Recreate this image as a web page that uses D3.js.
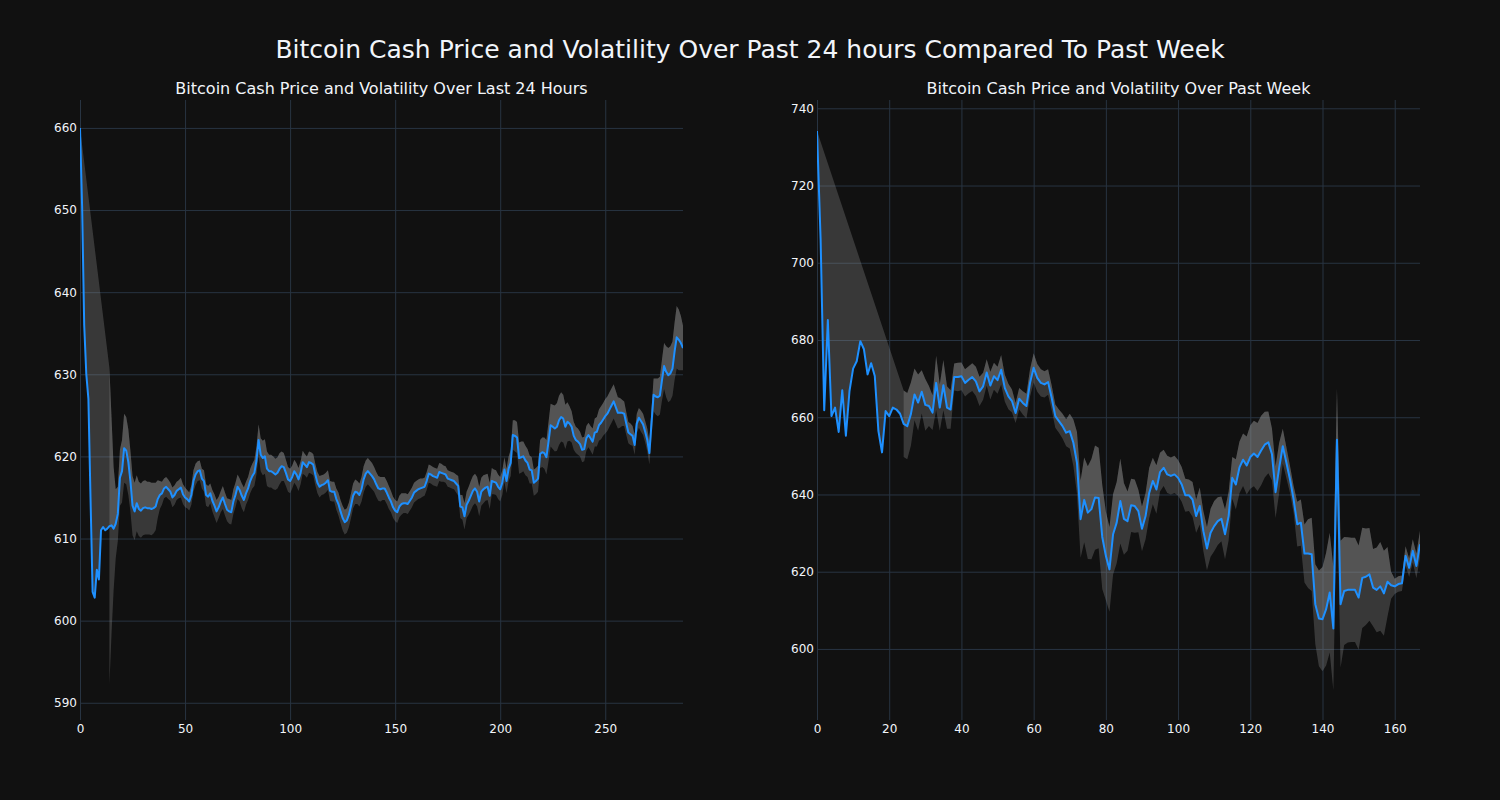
<!DOCTYPE html>
<html>
<head>
<meta charset="utf-8">
<script src="https://cdnjs.cloudflare.com/ajax/libs/d3/7.8.5/d3.min.js"></script>
<style>
  html, body { margin: 0; padding: 0; background: #111111; }
  svg { display: block; }
  text { font-family: "DejaVu Sans", sans-serif; fill: #f2f5fa; }
</style>
</head>
<body>
<svg id="chart" width="1500" height="800"></svg>
<script>
// ---------------- DATA ----------------
const mainTitle = "Bitcoin Cash Price and Volatility Over Past 24 hours Compared To Past Week";
const titleDay = "Bitcoin Cash Price and Volatility Over Last 24 Hours";
const titleWeek = "Bitcoin Cash Price and Volatility Over Past Week";

// 5-minute prices over the last 24 hours (index 0..287)
const priceDay = [
  660.0, 650.5, 636.0, 630.0, 627.0, 615.0, 603.5, 602.8, 606.2, 605.0,
  611.0, 611.4, 611.0, 611.2, 611.5, 611.6, 611.2, 611.8, 613.0, 617.4,
  618.2, 621.0, 620.7, 619.3, 617.0, 614.0, 613.3, 614.3, 613.6, 613.4,
  613.7, 613.8, 613.7, 613.7, 613.6, 613.7, 613.9, 614.8, 615.3, 615.5,
  616.1, 616.3, 616.0, 615.7, 615.0, 615.3, 615.8, 616.0, 616.2, 615.4,
  615.0, 614.8, 614.5, 615.3, 617.0, 617.8, 618.2, 618.3, 617.3, 617.0,
  615.3, 615.1, 615.5, 614.6, 614.0, 613.3, 613.8, 614.5, 615.0, 614.2,
  613.5, 613.3, 613.2, 614.5, 615.3, 616.3, 615.9, 615.2, 614.7, 615.5,
  616.1, 617.0, 617.6, 618.0, 619.5, 622.0, 620.2, 619.8, 620.0, 618.5,
  618.2, 618.2, 618.0, 617.8, 618.0, 618.5, 618.8, 618.7, 618.0, 617.2,
  617.0, 617.5, 618.2, 617.8, 617.2, 618.0, 619.3, 619.0, 618.7, 619.3,
  619.2, 619.0, 617.8, 616.8, 616.3, 616.5, 616.6, 616.8, 617.1, 615.8,
  615.7, 615.7, 614.8, 614.2, 613.3, 612.5, 612.0, 612.2, 612.9, 614.0,
  615.2, 615.7, 615.6, 615.3, 616.0, 617.2, 617.9, 618.2, 617.9, 617.6,
  617.2, 616.6, 616.1, 616.0, 616.1, 616.1, 615.6, 615.0, 614.5, 613.8,
  613.4, 613.2, 613.9, 614.2, 614.3, 614.3, 614.2, 614.6, 615.0, 615.6,
  615.8, 616.0, 616.1, 616.2, 616.3, 617.0, 617.9, 617.8, 617.6, 617.5,
  617.4, 618.1, 618.0, 617.9, 617.8, 617.3, 617.2, 617.1, 617.0, 616.7,
  616.4, 613.9, 613.8, 612.7, 614.1, 614.6, 615.2, 615.8, 616.1, 615.7,
  614.5, 615.7, 616.0, 616.2, 616.3, 615.2, 617.0, 616.9, 616.8, 616.3,
  616.0, 616.8, 618.4, 617.0, 618.5, 619.2, 622.6, 622.5, 622.3, 619.8,
  619.9, 620.0, 619.5, 619.2, 618.4, 618.3, 616.8, 617.0, 617.3, 620.3,
  620.5, 620.4, 619.9, 621.8, 623.8, 623.6, 623.4, 623.6, 624.4, 624.8,
  624.6, 623.6, 624.2, 624.0, 623.6, 622.5, 622.0, 621.8, 621.5, 620.8,
  620.9, 622.2, 622.6, 622.2, 621.8, 622.9, 623.0, 623.8, 624.1, 624.5,
  624.9, 625.2, 625.7, 626.2, 626.7, 626.0, 625.3, 625.3, 625.3, 625.2,
  624.0, 622.9, 622.7, 622.5, 621.4, 624.0, 624.7, 624.3, 623.9, 623.0,
  622.0, 620.4, 624.0, 627.5, 627.3, 627.2, 627.4, 629.3, 631.0, 630.3,
  629.9, 630.1, 630.7, 632.8, 634.5, 634.2, 633.8, 633.2
];

// volatility band half-width for the 24h chart (null = not available)
const volDay = [
  0,
  null, null, null, null, null, null, null, null, null, null, null, null, null,
  19.3, 13.2, 7.5, 4.2, 3.3, 3.4, 3.8, 4.2, 4.1, 4.0, 3.7, 3.6, 3.5, 3.4, 3.3, 3.3,
  3.3, 3.3, 3.2, 3.2, 3.2, 3.1, 2.9, 2.3, 1.7, 1.4,
  1.2, 1.2, 1.2, 1.1, 1.2, 1.2, 1.1, 1.1, 1.2, 1.2, 1.2, 1.1, 1.1, 1.2, 1.3, 1.3,
  1.2, 1.2, 1.2, 1.3, 1.3, 1.3, 1.2, 1.3, 1.4, 1.4, 1.3, 1.3, 1.4, 1.4, 1.4,
  1.5, 1.5, 1.5, 1.5, 1.5, 1.4, 1.5, 1.5, 1.4, 1.4, 1.5, 1.5, 1.6, 1.7,
  1.9, 2.0, 2.1, 2.1, 2.1, 2.0, 2.0, 2.0, 1.9, 1.9, 1.9, 1.8, 1.7,
  1.6, 1.5, 1.5, 1.4, 1.4, 1.4, 1.4, 1.4, 1.4, 1.3, 1.3, 1.3, 1.3, 1.3, 1.3,
  1.3, 1.3, 1.2, 1.2, 1.2, 1.2, 1.2, 1.2, 1.2, 1.3, 1.4, 1.4,
  1.5, 1.5, 1.5, 1.5, 1.5, 1.5, 1.5, 1.4, 1.4, 1.5, 1.6, 1.6, 1.6, 1.6, 1.6, 1.5,
  1.5, 1.5, 1.5, 1.4, 1.4,
  1.4, 1.4, 1.3, 1.3, 1.3, 1.3, 1.3, 1.3, 1.2, 1.2, 1.2, 1.2, 1.2, 1.2, 1.2, 1.2,
  1.2, 1.1, 1.1, 1.1,
  1.1, 1.1, 1.1, 1.1, 1.1, 1.1, 1.1, 1.0, 1.0, 1.0, 1.0, 1.0, 1.0, 1.1, 1.2,
  1.4, 1.5, 1.6, 1.6, 1.7, 1.8, 1.8, 1.8, 1.8, 1.8, 1.7, 1.7, 1.6, 1.6, 1.6, 1.6,
  1.5, 1.5, 1.5, 1.5, 1.5, 1.5, 1.5, 1.5, 1.6,
  1.8, 1.9, 1.9, 1.9, 1.9, 1.8, 1.8, 1.7, 1.7, 1.6, 1.6, 1.6, 1.6, 1.7, 1.8, 1.9, 2.1,
  2.4, 2.6, 2.7, 2.8, 2.9, 3.0, 3.0, 2.9, 2.7, 2.4,
  2.1, 1.9, 1.7, 1.6, 1.6, 1.5, 1.5, 1.5, 1.5, 1.5, 1.5, 1.6, 1.7,
  1.8, 1.9, 2.0, 2.0, 2.1, 2.1, 2.1, 2.1, 2.1, 2.0, 1.9, 1.8, 1.6,
  1.5, 1.4, 1.3, 1.3, 1.2, 1.2, 1.2, 1.2, 1.3, 1.3, 1.3, 1.4, 1.4,
  1.7, 2.0, 2.2, 2.3, 2.3, 2.5, 2.8, 3.1, 3.3, 3.3, 3.3, 3.5,
  3.8, 3.7, 3.3, 2.7
];

// hourly prices over the past week (index 0..167)
const priceWeek = [
  734.1, 706.0, 661.8, 685.2, 660.3, 662.5, 656.2, 667.0, 655.2, 666.8,
  672.6, 674.5, 679.7, 677.6, 671.1, 674.0, 670.7, 656.5, 650.9, 661.6,
  660.3, 662.5, 662.0, 660.9, 658.3, 657.7, 660.8, 665.9, 663.8, 666.6,
  663.2, 662.9, 661.2, 668.9, 662.5, 668.3, 662.5, 662.0, 670.4, 670.4,
  670.6, 668.9, 669.7, 670.4, 669.3, 666.7, 668.0, 671.6, 668.2, 670.6,
  669.6, 672.3, 667.6, 665.4, 664.2, 661.1, 664.8, 663.7, 662.9, 668.9,
  672.8, 670.2, 668.9, 668.5, 669.1, 665.0, 660.3, 659.0, 657.7, 656.0,
  656.4, 653.4, 648.2, 633.6, 638.6, 635.3, 636.2, 639.2, 639.1, 629.0,
  624.1, 620.6, 629.7, 632.7, 638.3, 633.7, 633.1, 637.2, 637.0, 635.7,
  631.1, 634.4, 640.4, 643.5, 641.3, 645.8, 646.9, 645.2, 644.8, 645.2,
  644.3, 642.6, 639.8, 639.8, 638.7, 634.4, 637.0, 630.5, 626.0, 630.1,
  631.8, 633.1, 633.7, 629.7, 634.4, 644.3, 642.6, 647.0, 649.0, 647.5,
  649.7, 650.6, 649.7, 651.4, 652.9, 653.5, 650.4, 640.6, 646.9, 652.5,
  648.2, 643.9, 638.7, 632.3, 632.7, 624.7, 624.7, 624.5, 611.6, 607.9,
  607.7, 610.3, 614.6, 605.3, 654.2, 611.6, 615.0, 615.3, 615.3, 615.3,
  613.3, 618.4, 618.7, 619.3, 615.9, 615.3, 616.2, 614.4, 617.4, 616.5,
  616.2, 616.8, 617.0, 624.1, 621.0, 625.4, 621.5, 627.1
];

// volatility band half-width for the weekly chart (null = not available)
const volWeek = [
  0,
  null, null, null, null, null, null, null, null, null, null, null, null,
  null, null, null, null, null, null, null, null, null, null, null,
  8.6, 8.6, 8.2, 6.7, 7.3, 5.6,
  6.7, 5.2, 4.5, 7.0, 6.0, 6.5, 5.5, 5.0, 3.5, 3.7,
  3.6, 3.5, 3.5, 3.6, 3.8, 3.8, 3.5, 3.4, 3.6, 3.5,
  3.5, 3.8, 3.5, 3.3, 3.0, 2.6, 2.8, 3.0, 3.2, 3.5,
  3.8, 3.6, 3.5, 3.4, 3.3, 3.2, 3.0, 3.0, 3.2, 3.5,
  4.5, 6.0, 8.0, 10.0, 11.0, 12.0, 13.0, 13.5, 13.0, 13.5,
  11.5, 11.0, 10.4, 10.5, 11.0, 9.3, 7.7, 6.9, 6.9, 5.5,
  5.8, 6.0, 6.5, 6.0, 6.3, 5.0, 4.7, 4.8, 4.8, 4.8,
  4.6, 4.5, 4.3, 4.1, 4.5, 4.3, 4.8, 5.2, 5.6, 6.2,
  6.5, 6.2, 5.8, 6.5, 6.3, 5.4, 6.5, 6.7, 6.8, 7.5,
  8.2, 8.5, 8.8, 9.0, 8.5, 8.0, 6.7, 6.7, 6.5, 4.5,
  4.0, 3.5, 3.5, 5.8, 6.0, 7.5, 8.9, 9.5, 10.3, 12.4,
  13.5, 14.6, 15.5, 16.0, 13.4, 16.4, 14.0, 13.6, 13.5, 13.5,
  13.5, 13.0, 12.5, 12.0, 10.0, 11.0, 11.5, 11.0, 9.0, 3.5,
  2.0, 2.0, 2.0, 2.5, 2.4, 3.0, 3.2, 3.5
];

const xTicksDay = [0, 50, 100, 150, 200, 250];
const yTicksDay = [590, 600, 610, 620, 630, 640, 650, 660];
const xTicksWeek = [0, 20, 40, 60, 80, 100, 120, 140, 160];
const yTicksWeek = [600, 620, 640, 660, 680, 700, 720, 740];

// ---------------- DRAW ----------------
const svg = d3.select("#chart");
const W = 1500, H = 800;
const plotTop = 100, plotBottom = 720;
const gridColor = "#283442";
const bandFill = "rgba(150,150,150,0.3)";

svg.append("rect").attr("width", W).attr("height", H).attr("fill", "#111111");

svg.append("text")
  .attr("x", 750).attr("y", 58)
  .attr("text-anchor", "middle")
  .style("font-size", "25px")
  .text(mainTitle);

function panel(opts) {
  const { id, left, right, prices, vols, xMax, yDomain, xTicks, yTicks, title } = opts;
  const w = right - left, h = plotBottom - plotTop;
  const g = svg.append("g").attr("transform", `translate(${left},${plotTop})`);
  const x = d3.scaleLinear().domain([0, xMax]).range([0, w]);
  const y = d3.scaleLinear().domain(yDomain).range([h, 0]);

  const yAxis = g.append("g").call(
    d3.axisLeft(y).tickValues(yTicks).tickSize(-w).tickPadding(3).tickFormat(d3.format("d"))
  );
  const xAxis = g.append("g").attr("transform", `translate(0,${h})`).call(
    d3.axisBottom(x).tickValues(xTicks).tickSize(-h).tickPadding(4).tickFormat(d3.format("d"))
  );
  [yAxis, xAxis].forEach(a => {
    a.select(".domain").remove();
    a.selectAll(".tick line").attr("stroke", gridColor).attr("stroke-width", 1);
    a.selectAll(".tick text").style("font-size", "12px").attr("fill", "#f2f5fa")
      .style("font-family", "'DejaVu Sans', sans-serif");
  });

  g.append("clipPath").attr("id", id).append("rect").attr("width", w).attr("height", h);
  const plot = g.append("g").attr("clip-path", `url(#${id})`);

  const data = prices.map((p, i) => ({ i, p, v: vols[i] }));
  const defined = data.filter(d => d.v !== null);

  const pricePts = data.map(d => [x(d.i), y(d.p)]);
  const upperPts = defined.map(d => [x(d.i), y(d.p + d.v)]);
  const poly = d3.line();

  // fill between price and upper bound (gap in the bound is bridged)
  plot.append("path")
    .attr("fill", bandFill)
    .attr("d", poly(pricePts.concat(upperPts.slice().reverse())) + "Z");

  // fill between upper and lower bound, only where the band is available
  plot.append("path")
    .datum(data)
    .attr("fill", bandFill)
    .attr("d", d3.area()
      .defined(d => d.v !== null && d.v > 0)
      .x(d => x(d.i)).y0(d => y(d.p - d.v)).y1(d => y(d.p + d.v)));

  plot.append("path")
    .datum(data)
    .attr("fill", "none")
    .attr("stroke", "#1e90ff")
    .attr("stroke-width", 2)
    .attr("stroke-linejoin", "round")
    .attr("d", d3.line().x(d => x(d.i)).y(d => y(d.p)));

  svg.append("text")
    .attr("x", left + w / 2).attr("y", 94)
    .attr("text-anchor", "middle")
    .style("font-size", "16px")
    .text(title);
}

panel({
  id: "clipDay", left: 80, right: 683, prices: priceDay, vols: volDay, xMax: 287,
  yDomain: [587.9, 663.4], xTicks: xTicksDay, yTicks: yTicksDay, title: titleDay
});
panel({
  id: "clipWeek", left: 817, right: 1420, prices: priceWeek, vols: volWeek, xMax: 167,
  yDomain: [581.6, 742.15], xTicks: xTicksWeek, yTicks: yTicksWeek, title: titleWeek
});
</script>
</body>
</html>
